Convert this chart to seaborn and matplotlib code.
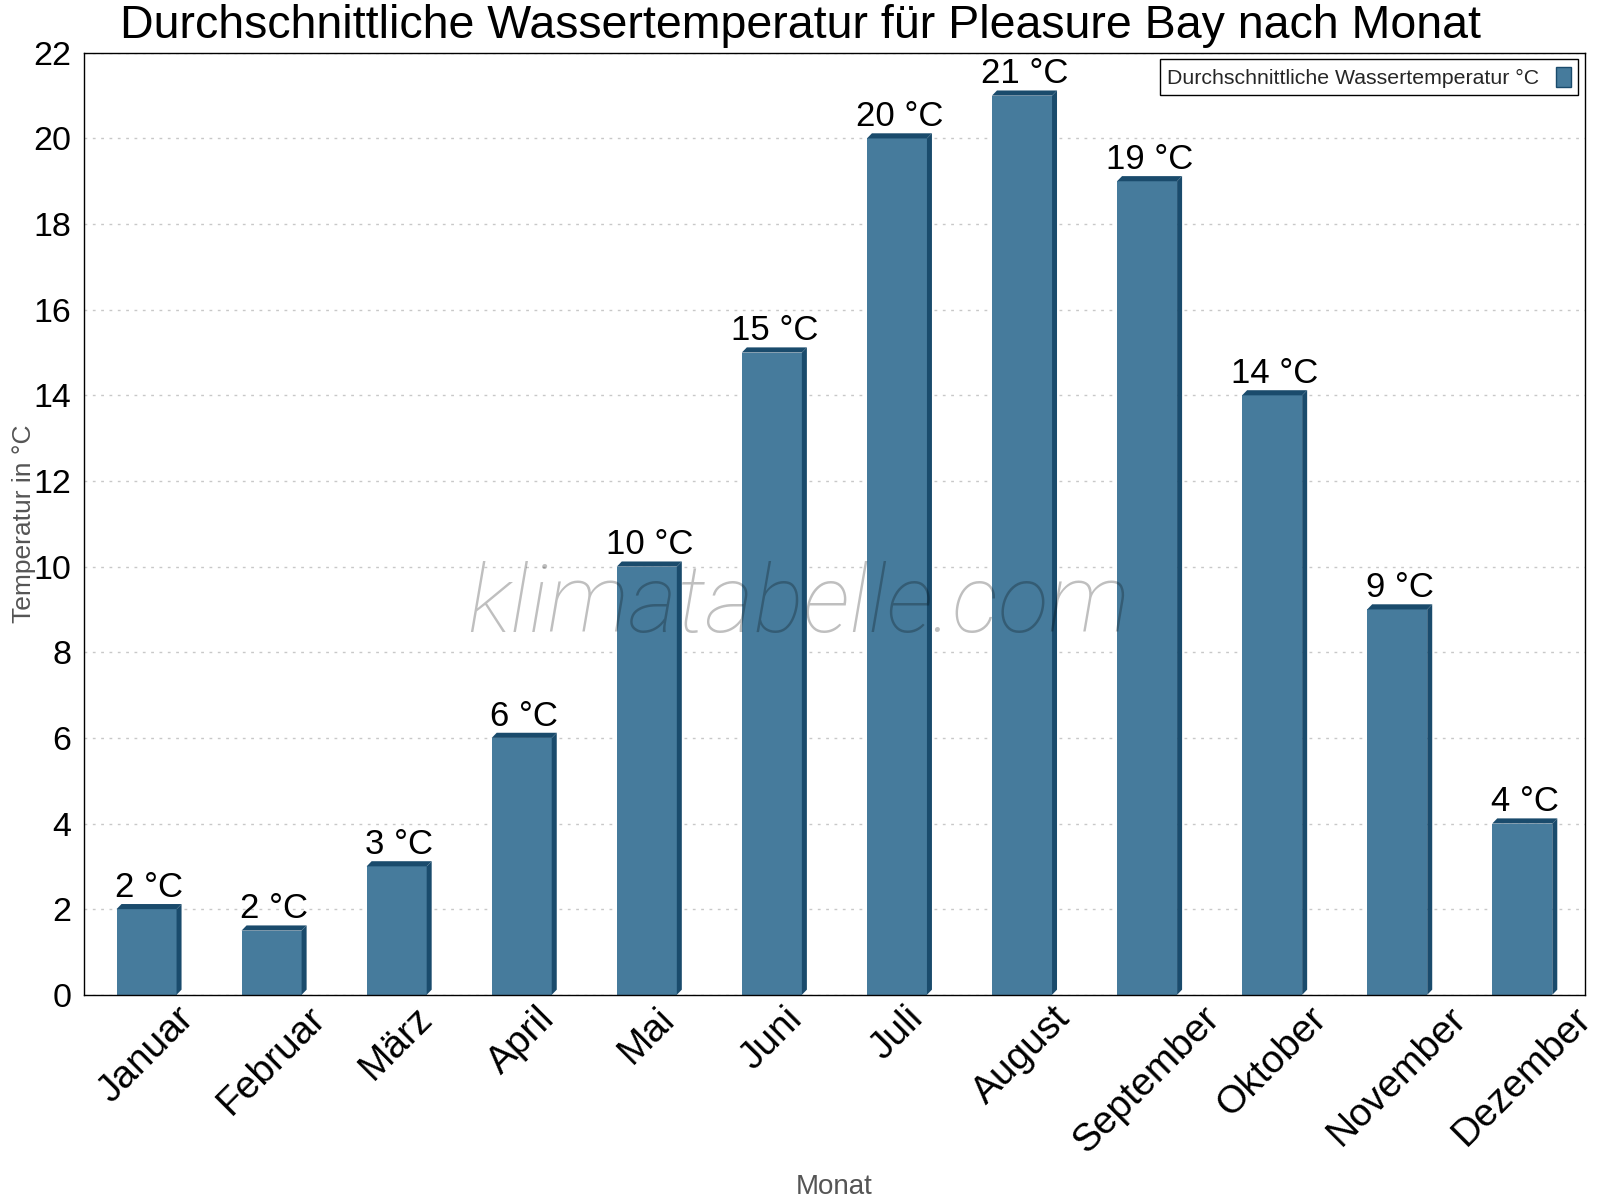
import matplotlib
matplotlib.use("Agg")
import matplotlib.pyplot as plt
import seaborn as sns
import pandas as pd
from matplotlib.patches import Polygon, Patch
from matplotlib.ticker import FixedLocator

months = ["Januar", "Februar", "März", "April", "Mai", "Juni", "Juli",
          "August", "September", "Oktober", "November", "Dezember"]
temps = [2, 1.5, 3, 6, 10, 15, 20, 21, 19, 14, 9, 4]
yticks = list(range(0, 23, 2))

title = "Durchschnittliche Wassertemperatur für Pleasure Bay nach Monat"
series_name = "Durchschnittliche Wassertemperatur °C"

FACE = "#467b9c"
DARK = "#1a4b6c"

sns.set_theme(style="white")
plt.rcParams["font.family"] = ["Liberation Sans", "DejaVu Sans"]

df = pd.DataFrame({"Monat": months, "Temp": temps})

fig = plt.figure(figsize=(16, 12), dpi=100)
ax = fig.add_axes([0.0525, 0.171, 0.938, 0.785])

sns.barplot(data=df, x="Monat", y="Temp", color=FACE, width=0.48,
            saturation=1, ax=ax, linewidth=0, edgecolor=FACE)

dx, dy = 0.04, 0.12
bars = list(ax.patches)
for p, v in zip(bars, temps):
    x0 = p.get_x()
    w = p.get_width()
    h = p.get_height()
    top = Polygon([(x0, h), (x0 + dx, h + dy), (x0 + w + dx, h + dy), (x0 + w, h)],
                  closed=True, facecolor=DARK, edgecolor="none", zorder=3)
    side = Polygon([(x0 + w, 0), (x0 + w + dx, dy), (x0 + w + dx, h + dy), (x0 + w, h)],
                   closed=True, facecolor=DARK, edgecolor="none", zorder=3)
    ax.add_patch(top)
    ax.add_patch(side)
    ax.text(x0 + w / 2 + dx / 2, h + dy + 0.0, f"{int(v + 0.5)} °C",
            ha="center", va="bottom", fontsize=25, color="black", zorder=5)

ax.set_xlim(-0.5, len(months) - 0.5)
ax.set_ylim(0, 22)
ax.yaxis.set_major_locator(FixedLocator(yticks))
ax.grid(axis="y", color="#c8c8c8", linestyle=(0, (2, 4)), linewidth=1)
ax.set_axisbelow(True)

ax.xaxis.set_minor_locator(FixedLocator([i + 0.5 for i in range(-1, len(months))]))
ax.tick_params(axis="x", which="major", length=0, labelsize=28, pad=4, labelcolor="black")
ax.tick_params(axis="x", which="minor", length=10, direction="inout", width=1, color="black")
ax.tick_params(axis="y", which="major", length=10, direction="inout", width=1,
               color="black", labelsize=24.5, pad=4, labelcolor="black")
plt.setp(ax.get_xticklabels(), rotation=45, ha="center")

for s in ax.spines.values():
    s.set_color("black")
    s.set_linewidth(1)

ax.set_xlabel("Monat", fontsize=20, color="#555555", labelpad=10)
ax.set_ylabel("Temperatur in °C", fontsize=19, color="#555555", labelpad=-2)
fig.suptitle(title, fontsize=33.5, color="black", x=0.5, y=0.997, va="top")

handle = Patch(facecolor=FACE, edgecolor=DARK, linewidth=1)
leg = ax.legend([handle], [series_name], loc="upper right", markerfirst=False,
                fontsize=15.3, frameon=True, fancybox=False, edgecolor="black",
                framealpha=1, handlelength=0.7, handleheight=1.1,
                borderaxespad=0.3, borderpad=0.35, handletextpad=0.8)
leg.get_frame().set_linewidth(1)

ax.text(0.476, 0.413, "klimatabelle.com", transform=ax.transAxes,
        fontsize=67.5, family=["Roboto", "DejaVu Sans"], fontweight="light",
        style="italic", color="black", alpha=0.25, ha="center", va="center", zorder=6)

fig.savefig("out.png", dpi=100)
